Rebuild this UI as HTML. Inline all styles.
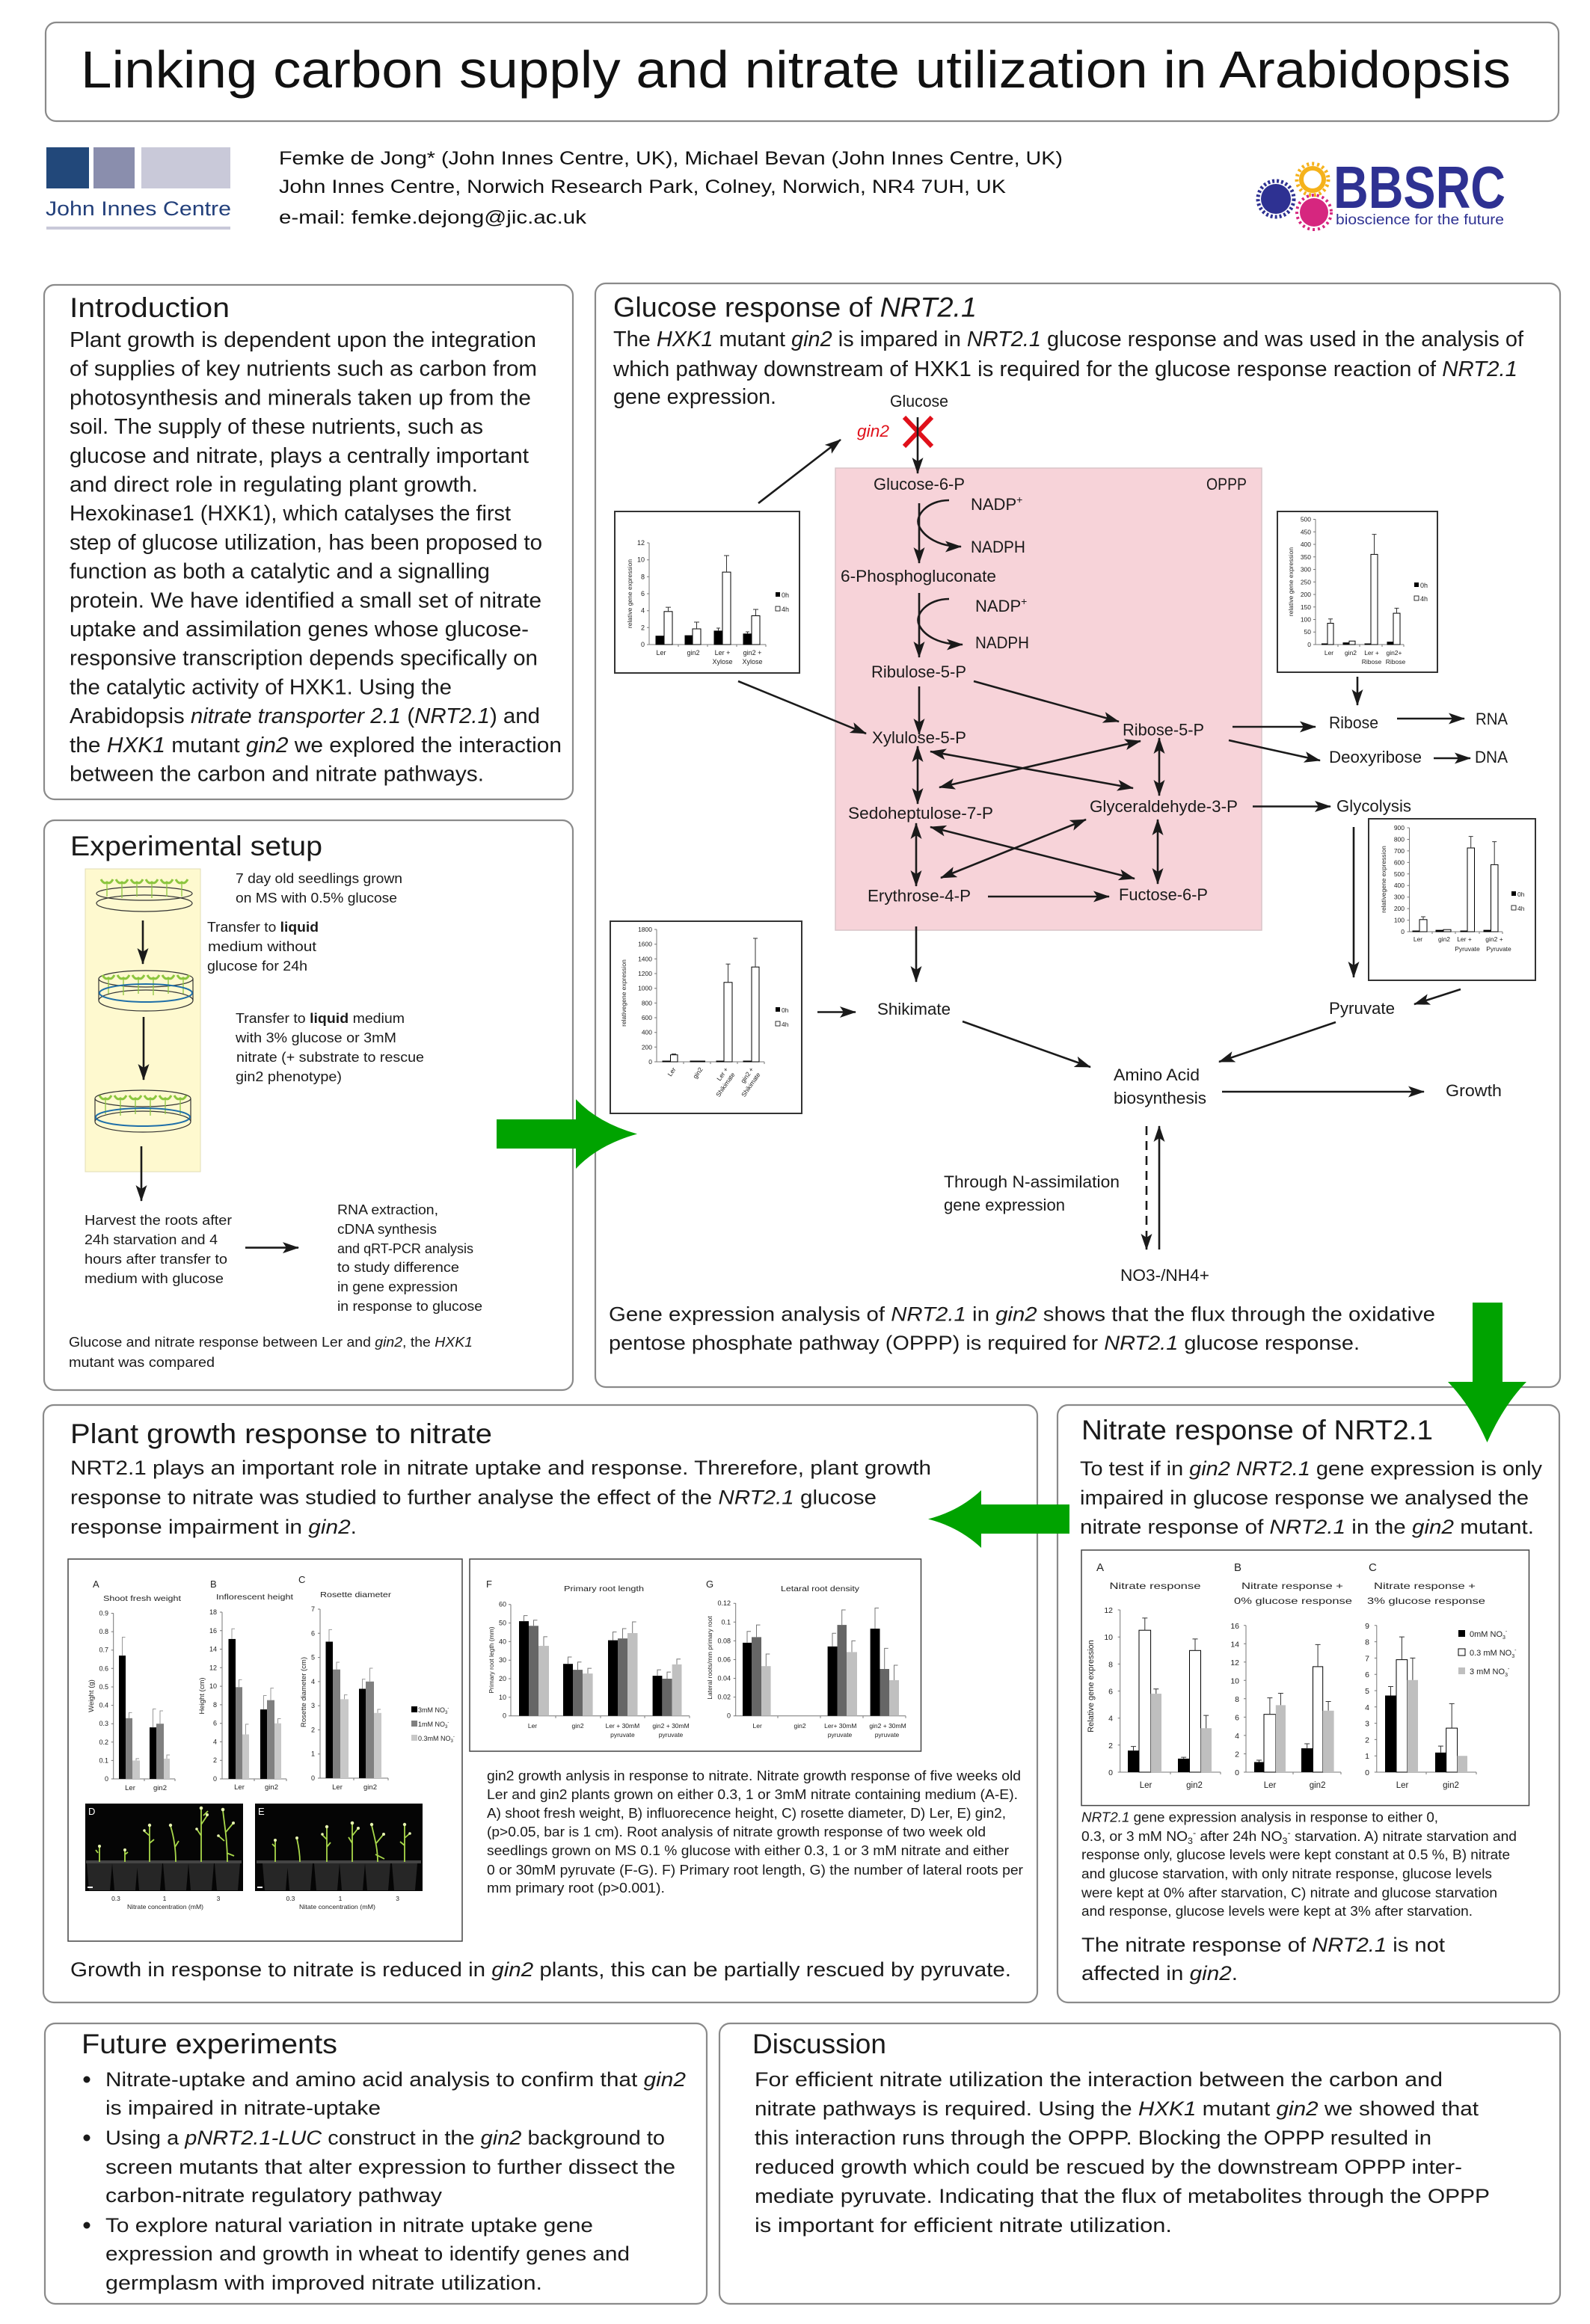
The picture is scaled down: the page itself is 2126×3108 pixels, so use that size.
<!DOCTYPE html>
<html><head><meta charset="utf-8">
<style>
html,body{margin:0;padding:0;background:#fff;}
svg{display:block;}
</style></head><body>
<svg xmlns="http://www.w3.org/2000/svg" width="2126" height="3108" viewBox="0 0 2126 3108" font-family="'Liberation Sans', Arial, sans-serif" fill="#1a1a1a">
<defs>
<marker id="ah" markerUnits="userSpaceOnUse" markerWidth="24" markerHeight="16" refX="21" refY="7.5" orient="auto-start-reverse"><path d="M0,0 L22,7.5 L0,15 L5,7.5 z" fill="#1a1a1a"/></marker>
</defs>
<style>
.pn{fill:#fff;stroke:#8a8a8a;stroke-width:2.2}
.h{font-size:37px}
.b{font-size:29px}
.m{font-size:27px}
.d{font-size:22px}
.s{font-size:18px}
.c{font-size:18.5px}
.ar{stroke:#1a1a1a;stroke-width:2.6;fill:none}
.ax{stroke:#777;stroke-width:1;fill:none}
.eb{stroke:#333;stroke-width:1;fill:none}
</style>
<rect x="0" y="0" width="2126" height="3108" fill="#fff"/>

<!-- Title -->
<rect class="pn" x="61" y="30" width="2023" height="132" rx="14"/>
<text x="108" y="117" font-size="70" textLength="1912" lengthAdjust="spacingAndGlyphs" fill="#111">Linking carbon supply and nitrate utilization in Arabidopsis</text>

<!-- JIC logo -->
<rect x="62" y="197" width="57" height="55" fill="#22487a"/>
<rect x="125" y="197" width="55" height="55" fill="#8a8ead"/>
<rect x="189" y="197" width="119" height="55" fill="#c9c9d9"/>
<text x="61" y="288" font-size="27" fill="#223f7a" textLength="248" lengthAdjust="spacingAndGlyphs">John Innes Centre</text>
<rect x="62" y="303" width="246" height="4" fill="#c9c9d9"/>

<!-- Authors -->
<g font-size="25" fill="#111">
<text x="373" y="220" textLength="1048" lengthAdjust="spacingAndGlyphs">Femke de Jong* (John Innes Centre, UK), Michael Bevan (John Innes Centre, UK)</text>
<text x="373" y="258" textLength="972" lengthAdjust="spacingAndGlyphs">John Innes Centre, Norwich Research Park, Colney, Norwich, NR4 7UH, UK</text>
<text x="373" y="299" textLength="411" lengthAdjust="spacingAndGlyphs">e-mail: femke.dejong@jic.ac.uk</text>
</g>

<!-- BBSRC logo -->
<circle cx="1706" cy="266" r="24" fill="none" stroke="#2e3192" stroke-width="5" stroke-dasharray="3 3"/>
<circle cx="1706" cy="266" r="20" fill="#2e3192"/>
<circle cx="1755" cy="240" r="21" fill="none" stroke="#f5b21b" stroke-width="5" stroke-dasharray="3 4"/>
<circle cx="1755" cy="240" r="15" fill="none" stroke="#f5b21b" stroke-width="6"/>
<circle cx="1757" cy="284" r="23" fill="none" stroke="#d6267f" stroke-width="4" stroke-dasharray="3 4"/>
<circle cx="1757" cy="284" r="19" fill="#d6267f"/>
<text x="1783" y="278" font-size="80" font-weight="bold" fill="#2e3192" textLength="230" lengthAdjust="spacingAndGlyphs">BBSRC</text>
<text x="1786" y="300" font-size="19" fill="#2e3192" textLength="225" lengthAdjust="spacingAndGlyphs">bioscience for the future</text>

<!-- Introduction -->
<rect class="pn" x="59" y="381" width="707" height="688" rx="14"/>
<text class="h" x="93" y="424" textLength="214" lengthAdjust="spacingAndGlyphs">Introduction</text>
<g class="b">
<text x="93" y="464" textLength="624" lengthAdjust="spacingAndGlyphs">Plant growth is dependent upon the integration</text>
<text x="93" y="502.7" textLength="625" lengthAdjust="spacingAndGlyphs">of supplies of key nutrients such as carbon from</text>
<text x="93" y="541.4" textLength="617" lengthAdjust="spacingAndGlyphs">photosynthesis and minerals taken up from the</text>
<text x="93" y="580.1" textLength="553" lengthAdjust="spacingAndGlyphs">soil. The supply of these nutrients, such as</text>
<text x="93" y="618.8" textLength="614" lengthAdjust="spacingAndGlyphs">glucose and nitrate, plays a centrally important</text>
<text x="93" y="657.5" textLength="546" lengthAdjust="spacingAndGlyphs">and direct role in regulating plant growth.</text>
<text x="93" y="696.2" textLength="590" lengthAdjust="spacingAndGlyphs">Hexokinase1 (HXK1), which catalyses the first</text>
<text x="93" y="734.9" textLength="632" lengthAdjust="spacingAndGlyphs">step of glucose utilization, has been proposed to</text>
<text x="93" y="773.6" textLength="562" lengthAdjust="spacingAndGlyphs">function as both a catalytic and a signalling</text>
<text x="93" y="812.3" textLength="631" lengthAdjust="spacingAndGlyphs">protein. We have identified a small set of nitrate</text>
<text x="93" y="851" textLength="614" lengthAdjust="spacingAndGlyphs">uptake and assimilation genes whose glucose-</text>
<text x="93" y="889.7" textLength="626" lengthAdjust="spacingAndGlyphs">responsive transcription depends specifically on</text>
<text x="93" y="928.4" textLength="511" lengthAdjust="spacingAndGlyphs">the catalytic activity of HXK1. Using the</text>
<text x="93" y="967.1" textLength="629" lengthAdjust="spacingAndGlyphs">Arabidopsis <tspan font-style="italic">nitrate transporter 2.1</tspan> (<tspan font-style="italic">NRT2.1</tspan>) and</text>
<text x="93" y="1005.8" textLength="658" lengthAdjust="spacingAndGlyphs">the <tspan font-style="italic">HXK1</tspan> mutant <tspan font-style="italic">gin2</tspan> we explored the interaction</text>
<text x="93" y="1044.5" textLength="554" lengthAdjust="spacingAndGlyphs">between the carbon and nitrate pathways.</text>
</g>

<!-- Experimental setup -->
<rect class="pn" x="59" y="1097" width="707" height="762" rx="14"/>
<text class="h" x="94" y="1144" textLength="337" lengthAdjust="spacingAndGlyphs">Experimental setup</text>
<rect x="114" y="1162" width="154" height="405" fill="#fef9cf" stroke="#e2ddb4" stroke-width="1"/>
<!-- dish 1 -->
<ellipse cx="193" cy="1195" rx="64" ry="9" fill="none" stroke="#333" stroke-width="1.2"/>
<ellipse cx="193" cy="1208" rx="64" ry="11" fill="none" stroke="#333" stroke-width="1.2"/>
<g stroke="#8cc63f" fill="none">
<path stroke-width="3" d="M135,1176 Q139,1183 143,1180 Q147,1183 151,1176 M155,1176 Q159,1183 163,1180 Q167,1183 171,1176 M175,1176 Q179,1183 183,1180 Q187,1183 191,1176 M195,1176 Q199,1183 203,1180 Q207,1183 211,1176 M215,1176 Q219,1183 223,1180 Q227,1183 231,1176 M235,1176 Q239,1183 243,1180 Q247,1183 251,1176"/>
<path stroke-width="1.3" d="M143,1181v18 M163,1181v20 M183,1181v18 M203,1181v20 M223,1181v18 M243,1181v18"/>
</g>
<path class="ar" d="M191,1231 V1289" marker-end="url(#ah)"/>
<!-- dish 2 -->
<ellipse cx="195" cy="1309" rx="63" ry="11" fill="none" stroke="#333" stroke-width="1.2"/>
<ellipse cx="195" cy="1338" rx="63" ry="14" fill="none" stroke="#333" stroke-width="1.2"/>
<path d="M132,1309V1338 M258,1309V1338" stroke="#333" stroke-width="1.2"/>
<g stroke="#8cc63f" fill="none">
<path stroke-width="3" d="M137,1304 Q141,1311 145,1308 Q149,1311 153,1304 M157,1304 Q161,1311 165,1308 Q169,1311 173,1304 M177,1304 Q181,1311 185,1308 Q189,1311 193,1304 M197,1304 Q201,1311 205,1308 Q209,1311 213,1304 M217,1304 Q221,1311 225,1308 Q229,1311 233,1304 M237,1304 Q241,1311 245,1308 Q249,1311 253,1304"/>
<path stroke-width="1.3" d="M145,1309v20 M165,1309v22 M185,1309v20 M205,1309v22 M225,1309v20 M245,1309v20"/>
</g>
<ellipse cx="195" cy="1328" rx="62" ry="12" fill="none" stroke="#1f6fa8" stroke-width="2"/>
<path class="ar" d="M192,1360 V1444" marker-end="url(#ah)"/>
<!-- dish 3 -->
<ellipse cx="191" cy="1469" rx="64" ry="11" fill="none" stroke="#333" stroke-width="1.2"/>
<ellipse cx="191" cy="1500" rx="64" ry="14" fill="none" stroke="#333" stroke-width="1.2"/>
<path d="M127,1469V1500 M255,1469V1500" stroke="#333" stroke-width="1.2"/>
<g stroke="#8cc63f" fill="none">
<path stroke-width="3" d="M133,1465 Q137,1472 141,1469 Q145,1472 149,1465 M153,1465 Q157,1472 161,1469 Q165,1472 169,1465 M173,1465 Q177,1472 181,1469 Q185,1472 189,1465 M193,1465 Q197,1472 201,1469 Q205,1472 209,1465 M213,1465 Q217,1472 221,1469 Q225,1472 229,1465 M233,1465 Q237,1472 241,1469 Q245,1472 249,1465"/>
<path stroke-width="1.3" d="M141,1470v20 M161,1470v22 M181,1470v20 M201,1470v22 M221,1470v20 M241,1470v20"/>
</g>
<ellipse cx="191" cy="1494" rx="63" ry="12" fill="none" stroke="#1f6fa8" stroke-width="2"/>
<path class="ar" d="M189,1533 V1606" marker-end="url(#ah)"/>
<g class="s">
<text x="315" y="1181" textLength="223" lengthAdjust="spacingAndGlyphs">7 day old seedlings grown</text>
<text x="315" y="1207" textLength="216" lengthAdjust="spacingAndGlyphs">on MS with 0.5% glucose</text>
<text x="277" y="1246" textLength="149" lengthAdjust="spacingAndGlyphs">Transfer to <tspan font-weight="bold">liquid</tspan></text>
<text x="278" y="1272" textLength="145" lengthAdjust="spacingAndGlyphs">medium without</text>
<text x="277" y="1298" textLength="134" lengthAdjust="spacingAndGlyphs">glucose for 24h</text>
<text x="315" y="1368" textLength="226" lengthAdjust="spacingAndGlyphs">Transfer to <tspan font-weight="bold">liquid</tspan> medium</text>
<text x="315" y="1394" textLength="215" lengthAdjust="spacingAndGlyphs">with 3% glucose or 3mM</text>
<text x="316" y="1420" textLength="251" lengthAdjust="spacingAndGlyphs">nitrate (+ substrate to rescue</text>
<text x="315" y="1446" textLength="142" lengthAdjust="spacingAndGlyphs">gin2 phenotype)</text>
<text x="113" y="1638" textLength="197" lengthAdjust="spacingAndGlyphs">Harvest the roots after</text>
<text x="113" y="1664" textLength="178" lengthAdjust="spacingAndGlyphs">24h starvation and 4</text>
<text x="113" y="1690" textLength="191" lengthAdjust="spacingAndGlyphs">hours after transfer to</text>
<text x="113" y="1716" textLength="186" lengthAdjust="spacingAndGlyphs">medium with glucose</text>
<text x="451" y="1624" textLength="135" lengthAdjust="spacingAndGlyphs">RNA extraction,</text>
<text x="451" y="1650" textLength="133" lengthAdjust="spacingAndGlyphs">cDNA synthesis</text>
<text x="451" y="1676" textLength="182" lengthAdjust="spacingAndGlyphs">and qRT-PCR analysis</text>
<text x="451" y="1701" textLength="163" lengthAdjust="spacingAndGlyphs">to study difference</text>
<text x="451" y="1727" textLength="161" lengthAdjust="spacingAndGlyphs">in gene expression</text>
<text x="451" y="1753" textLength="194" lengthAdjust="spacingAndGlyphs">in response to glucose</text>
<text x="92" y="1801" textLength="540" lengthAdjust="spacingAndGlyphs">Glucose and nitrate response between Ler and <tspan font-style="italic">gin2</tspan>, the <tspan font-style="italic">HXK1</tspan></text>
<text x="92" y="1828" textLength="195" lengthAdjust="spacingAndGlyphs">mutant was compared</text>
</g>
<path class="ar" d="M328,1668.6 H399" marker-end="url(#ah)"/>

<!-- Glucose response panel -->
<rect class="pn" x="796" y="379" width="1290" height="1476" rx="14"/>
<text class="h" x="820" y="423.5" textLength="486" lengthAdjust="spacingAndGlyphs">Glucose response of <tspan font-style="italic">NRT2.1</tspan></text>
<g class="b">
<text x="820" y="463" textLength="1217" lengthAdjust="spacingAndGlyphs">The <tspan font-style="italic">HXK1</tspan> mutant <tspan font-style="italic">gin2</tspan> is impared in <tspan font-style="italic">NRT2.1</tspan> glucose response and was used in the analysis of</text>
<text x="820" y="503" textLength="1209" lengthAdjust="spacingAndGlyphs">which pathway downstream of HXK1 is required for the glucose response reaction of <tspan font-style="italic">NRT2.1</tspan></text>
<text x="820" y="540" textLength="218" lengthAdjust="spacingAndGlyphs">gene expression.</text>
</g>
<!-- OPPP box -->
<rect x="1117" y="626" width="570" height="618" fill="#f7d3d9" stroke="#d9c4c8" stroke-width="1.5"/>

<g class="d">
<text x="1190" y="544" textLength="78" lengthAdjust="spacingAndGlyphs">Glucose</text>
<text x="1146" y="584" fill="#e0101a" font-style="italic" textLength="43" lengthAdjust="spacingAndGlyphs">gin2</text>
<text x="1168" y="655" textLength="122" lengthAdjust="spacingAndGlyphs">Glucose-6-P</text>
<text x="1613" y="655" textLength="54" lengthAdjust="spacingAndGlyphs">OPPP</text>
<text x="1298" y="682">NADP<tspan dy="-9" font-size="14">+</tspan></text>
<text x="1298" y="739" textLength="73" lengthAdjust="spacingAndGlyphs">NADPH</text>
<text x="1124" y="778" textLength="208" lengthAdjust="spacingAndGlyphs">6-Phosphogluconate</text>
<text x="1304" y="818">NADP<tspan dy="-9" font-size="14">+</tspan></text>
<text x="1304" y="867" textLength="72" lengthAdjust="spacingAndGlyphs">NADPH</text>
<text x="1165" y="906" textLength="127" lengthAdjust="spacingAndGlyphs">Ribulose-5-P</text>
<text x="1166" y="994" textLength="126" lengthAdjust="spacingAndGlyphs">Xylulose-5-P</text>
<text x="1501" y="983.5" textLength="109" lengthAdjust="spacingAndGlyphs">Ribose-5-P</text>
<text x="1134" y="1095" textLength="194" lengthAdjust="spacingAndGlyphs">Sedoheptulose-7-P</text>
<text x="1457" y="1086" textLength="198" lengthAdjust="spacingAndGlyphs">Glyceraldehyde-3-P</text>
<text x="1160" y="1205.6" textLength="138" lengthAdjust="spacingAndGlyphs">Erythrose-4-P</text>
<text x="1496" y="1204" textLength="119" lengthAdjust="spacingAndGlyphs">Fuctose-6-P</text>
<text x="1777" y="974" textLength="66" lengthAdjust="spacingAndGlyphs">Ribose</text>
<text x="1973" y="969" textLength="43" lengthAdjust="spacingAndGlyphs">RNA</text>
<text x="1777" y="1020" textLength="124" lengthAdjust="spacingAndGlyphs">Deoxyribose</text>
<text x="1972" y="1020" textLength="44" lengthAdjust="spacingAndGlyphs">DNA</text>
<text x="1787" y="1085.5" textLength="100" lengthAdjust="spacingAndGlyphs">Glycolysis</text>
<text x="1173" y="1357" textLength="98" lengthAdjust="spacingAndGlyphs">Shikimate</text>
<text x="1777" y="1356" textLength="88" lengthAdjust="spacingAndGlyphs">Pyruvate</text>
<text x="1489" y="1445" textLength="115" lengthAdjust="spacingAndGlyphs">Amino Acid</text>
<text x="1489" y="1476" textLength="124" lengthAdjust="spacingAndGlyphs">biosynthesis</text>
<text x="1933" y="1466" textLength="75" lengthAdjust="spacingAndGlyphs">Growth</text>
<text x="1262" y="1588" textLength="235" lengthAdjust="spacingAndGlyphs">Through N-assimilation</text>
<text x="1262" y="1619" textLength="162" lengthAdjust="spacingAndGlyphs">gene expression</text>
<text x="1498" y="1713" textLength="119" lengthAdjust="spacingAndGlyphs">NO3-/NH4+</text>
</g>
<!-- red X -->
<path d="M1209,558 L1246,597 M1246,558 L1209,597" stroke="#e0101a" stroke-width="6"/>
<!-- arrows -->
<g class="ar">
<path d="M1227,558 V633" marker-end="url(#ah)"/>
<path d="M1229,673 V753" marker-end="url(#ah)"/>
<path d="M1269,669 C1240,669 1222,690 1229,704 C1236,718 1255,731 1285,731" marker-end="url(#ah)"/>
<path d="M1229,793 V879" marker-end="url(#ah)"/>
<path d="M1269,801 C1240,801 1222,822 1229,836 C1236,850 1255,862 1287,862" marker-end="url(#ah)"/>
<path d="M1229,918 V982" marker-end="url(#ah)"/>
<path d="M1302,911 L1496,965" marker-end="url(#ah)"/>
<path d="M987,911 L1158,981" marker-end="url(#ah)"/>
<path d="M1014,673 L1124,588" marker-end="url(#ah)"/>
<path d="M1227,998 V1075" marker-start="url(#ah)" marker-end="url(#ah)"/>
<path d="M1244,1005 L1515,1054" marker-start="url(#ah)" marker-end="url(#ah)"/>
<path d="M1256,1053 L1525,991" marker-start="url(#ah)" marker-end="url(#ah)"/>
<path d="M1550,987 V1064" marker-start="url(#ah)" marker-end="url(#ah)"/>
<path d="M1648,972 H1759" marker-end="url(#ah)"/>
<path d="M1643,990 L1765,1017" marker-end="url(#ah)"/>
<path d="M1868,961 H1958" marker-end="url(#ah)"/>
<path d="M1917,1014 H1966" marker-end="url(#ah)"/>
<path d="M1675,1078.5 H1779" marker-end="url(#ah)"/>
<path d="M1815,905 V943" marker-end="url(#ah)"/>
<path d="M1225,1101 V1185" marker-start="url(#ah)" marker-end="url(#ah)"/>
<path d="M1244,1106 L1517,1175" marker-start="url(#ah)" marker-end="url(#ah)"/>
<path d="M1258,1174 L1452,1096" marker-start="url(#ah)" marker-end="url(#ah)"/>
<path d="M1548,1096 V1182" marker-start="url(#ah)" marker-end="url(#ah)"/>
<path d="M1321,1199 H1483" marker-end="url(#ah)"/>
<path d="M1225,1239 V1313" marker-end="url(#ah)"/>
<path d="M1093,1353.5 H1144" marker-end="url(#ah)"/>
<path d="M1287,1366 L1458,1427" marker-end="url(#ah)"/>
<path d="M1810,1106 V1307" marker-end="url(#ah)"/>
<path d="M1953,1323 L1891,1343" marker-end="url(#ah)"/>
<path d="M1786,1367 L1630,1420" marker-end="url(#ah)"/>
<path d="M1634,1460 H1904" marker-end="url(#ah)"/>
<path d="M1533,1506 V1671" stroke-dasharray="12 8" marker-end="url(#ah)"/>
<path d="M1550,1671 V1506" marker-end="url(#ah)"/>
</g>
<g class="m">
<text x="814" y="1766.5" textLength="1105" lengthAdjust="spacingAndGlyphs">Gene expression analysis of <tspan font-style="italic">NRT2.1</tspan> in <tspan font-style="italic">gin2</tspan> shows that the flux through the oxidative</text>
<text x="814" y="1805" textLength="1004" lengthAdjust="spacingAndGlyphs">pentose phosphate pathway (OPPP) is required for <tspan font-style="italic">NRT2.1</tspan> glucose response.</text>
</g>

<!-- Chart 1: Xylose -->
<g font-size="9" fill="#222">
<rect x="822" y="684" width="247" height="216" fill="#fff" stroke="#333" stroke-width="2"/>
<path class="ax" d="M868,726V862H1024 M865,862h3 M865,839.3h3 M865,816.7h3 M865,794h3 M865,771.3h3 M865,748.7h3 M865,726h3 M907,862v3 M946,862v3 M985,862v3 M1024,862v3"/>
<g text-anchor="end"><text x="862" y="865">0</text><text x="862" y="842.3">2</text><text x="862" y="819.7">4</text><text x="862" y="797">6</text><text x="862" y="774.3">8</text><text x="862" y="751.7">10</text><text x="862" y="729">12</text></g>
<g stroke="#000" stroke-width="1">
<rect x="877" y="850.7" width="11" height="11.3" fill="#000"/><rect x="888" y="817.8" width="11" height="44.2" fill="#fff"/>
<rect x="916" y="850.1" width="10" height="11.9" fill="#000"/><rect x="926" y="841" width="11" height="21" fill="#fff"/>
<rect x="955" y="843.9" width="11" height="18.1" fill="#000"/><rect x="966" y="765.1" width="11" height="96.9" fill="#fff"/>
<rect x="994" y="847.8" width="11" height="14.2" fill="#000"/><rect x="1005" y="823.5" width="11" height="38.5" fill="#fff"/>
</g>
<path class="eb" d="M893.5,817.8V812.1M890,812.1h7 M931.5,841V832M928,832h7 M971.5,765.1V743M968,743h7 M1010.5,823.5V815M1007,815h7 M960.5,843.9V840M958,840h5 M999.5,847.8V845M997,845h5"/>
<g text-anchor="middle"><text x="884" y="876">Ler</text><text x="927" y="876">gin2</text><text x="966" y="876">Ler +</text><text x="1006" y="876">gin2 +</text><text x="966" y="888">Xylose</text><text x="1006" y="888">Xylose</text></g>
<rect x="1037" y="792" width="6" height="6" fill="#000"/><text x="1045" y="799">0h</text>
<rect x="1037" y="811" width="6" height="6" fill="#fff" stroke="#000" stroke-width="0.8"/><text x="1045" y="818">4h</text>
<text transform="translate(845,794) rotate(-90)" text-anchor="middle" font-size="8.5">relative gene expression</text>
</g>

<!-- Chart 2: Ribose -->
<g font-size="9" fill="#222">
<rect x="1708" y="684" width="214" height="215" fill="#fff" stroke="#333" stroke-width="2"/>
<path class="ax" d="M1759,694.5V862H1877 M1756,862h3 M1756,845.25h3 M1756,828.5h3 M1756,811.75h3 M1756,795h3 M1756,778.25h3 M1756,761.5h3 M1756,744.75h3 M1756,728h3 M1756,711.25h3 M1756,694.5h3 M1789,862v3 M1818,862v3 M1848,862v3 M1877,862v3"/>
<g text-anchor="end" font-size="8.5"><text x="1753" y="865">0</text><text x="1753" y="848">50</text><text x="1753" y="831.5">100</text><text x="1753" y="814.75">150</text><text x="1753" y="798">200</text><text x="1753" y="781.25">250</text><text x="1753" y="764.5">300</text><text x="1753" y="747.75">350</text><text x="1753" y="731">400</text><text x="1753" y="714.25">450</text><text x="1753" y="697.5">500</text></g>
<g stroke="#000" stroke-width="1">
<rect x="1767.5" y="861" width="7" height="1" fill="#000"/><rect x="1775" y="833.5" width="8" height="28.5" fill="#fff"/>
<rect x="1796" y="859.7" width="8" height="2.3" fill="#000"/><rect x="1804" y="857.3" width="8" height="4.7" fill="#fff"/>
<rect x="1825" y="861" width="7" height="1" fill="#000"/><rect x="1833" y="741.4" width="9" height="120.6" fill="#fff"/>
<rect x="1855" y="858.7" width="8" height="3.3" fill="#000"/><rect x="1863" y="820.1" width="9" height="41.9" fill="#fff"/>
</g>
<path class="eb" d="M1779,833.5V827.8M1776,827.8h6 M1837.5,741.4V714.6M1834.5,714.6h6 M1867.5,820.1V813.4M1864.5,813.4h6"/>
<g text-anchor="middle" font-size="8.5"><text x="1777" y="876">Ler</text><text x="1806" y="876">gin2</text><text x="1834" y="876">Ler +</text><text x="1864" y="876">gin2+</text><text x="1834" y="888">Ribose</text><text x="1866" y="888">Ribose</text></g>
<rect x="1891" y="779" width="6" height="6" fill="#000"/><text x="1899" y="786">0h</text>
<rect x="1891" y="797" width="6" height="6" fill="#fff" stroke="#000" stroke-width="0.8"/><text x="1899" y="804">4h</text>
<text transform="translate(1729,778) rotate(-90)" text-anchor="middle" font-size="8.5">relative gene expression</text>
</g>

<!-- Chart 3: Pyruvate -->
<g font-size="8.5" fill="#222">
<rect x="1830" y="1095" width="223" height="216" fill="#fff" stroke="#333" stroke-width="2"/>
<path class="ax" d="M1884.5,1107V1246H2009 M1881.5,1246h3 M1881.5,1230.6h3 M1881.5,1215.1h3 M1881.5,1199.7h3 M1881.5,1184.2h3 M1881.5,1168.8h3 M1881.5,1153.4h3 M1881.5,1137.9h3 M1881.5,1122.5h3 M1881.5,1107h3 M1915,1246v3 M1946,1246v3 M1978,1246v3 M2009,1246v3"/>
<g text-anchor="end"><text x="1878" y="1249">0</text><text x="1878" y="1233.6">100</text><text x="1878" y="1218.1">200</text><text x="1878" y="1202.7">300</text><text x="1878" y="1187.2">400</text><text x="1878" y="1171.8">500</text><text x="1878" y="1156.4">600</text><text x="1878" y="1140.9">700</text><text x="1878" y="1125.5">800</text><text x="1878" y="1110">900</text></g>
<g stroke="#000" stroke-width="1">
<rect x="1889" y="1245" width="9" height="1" fill="#000"/><rect x="1898" y="1229.8" width="10" height="16.2" fill="#fff"/>
<rect x="1920" y="1244.1" width="10" height="1.9" fill="#000"/><rect x="1930" y="1243.2" width="10" height="2.8" fill="#fff"/>
<rect x="1953" y="1245" width="9" height="1" fill="#000"/><rect x="1962" y="1134" width="9.5" height="112" fill="#fff"/>
<rect x="1984" y="1244.1" width="9.5" height="1.9" fill="#000"/><rect x="1993.5" y="1156.4" width="9.5" height="89.6" fill="#fff"/>
</g>
<path class="eb" d="M1903,1229.8V1226M1900,1226h6 M1966.7,1134V1118.6M1963.7,1118.6h6 M1998.2,1156.4V1125.6M1995.2,1125.6h6"/>
<g text-anchor="middle"><text x="1896" y="1259">Ler</text><text x="1931" y="1259">gin2</text><text x="1958" y="1259">Ler +</text><text x="1998" y="1259">gin2 +</text><text x="1962" y="1272">Pyruvate</text><text x="2004" y="1272">Pyruvate</text></g>
<rect x="2021" y="1192" width="6" height="6" fill="#000"/><text x="2029" y="1199">0h</text>
<rect x="2021" y="1211" width="6" height="6" fill="#fff" stroke="#000" stroke-width="0.8"/><text x="2029" y="1218">4h</text>
<text transform="translate(1853,1176) rotate(-90)" text-anchor="middle" font-size="8.5">relativegene expression</text>
</g>

<!-- Chart 4: Shikimate -->
<g font-size="8.5" fill="#222">
<rect x="816" y="1232" width="256" height="257" fill="#fff" stroke="#333" stroke-width="2"/>
<path class="ax" d="M878,1243V1420H1022 M875,1420h3 M875,1400.3h3 M875,1380.7h3 M875,1361h3 M875,1341.4h3 M875,1321.7h3 M875,1302h3 M875,1282.4h3 M875,1262.7h3 M875,1243h3 M914,1420v3 M950,1420v3 M986,1420v3 M1022,1420v3"/>
<g text-anchor="end"><text x="872" y="1423">0</text><text x="872" y="1403.3">200</text><text x="872" y="1383.7">400</text><text x="872" y="1364">600</text><text x="872" y="1344.4">800</text><text x="872" y="1324.7">1000</text><text x="872" y="1305">1200</text><text x="872" y="1285.4">1400</text><text x="872" y="1265.7">1600</text><text x="872" y="1246">1800</text></g>
<g stroke="#000" stroke-width="1">
<rect x="886" y="1419" width="10" height="1" fill="#000"/><rect x="896.5" y="1410.7" width="9.5" height="9.3" fill="#fff"/>
<rect x="923" y="1419" width="10" height="1" fill="#000"/><rect x="933" y="1419" width="9.5" height="1" fill="#fff"/>
<rect x="958" y="1419" width="10" height="1" fill="#000"/><rect x="968" y="1313.8" width="11" height="106.2" fill="#fff"/>
<rect x="994" y="1419" width="11" height="1" fill="#000"/><rect x="1005" y="1293.2" width="10" height="126.8" fill="#fff"/>
</g>
<path class="eb" d="M901,1410.7V1409.5M898,1409.5h6 M973.5,1313.8V1289.3M970.5,1289.3h6 M1010,1293.2V1254.9M1007,1254.9h6"/>
<text transform="translate(904,1430) rotate(-55)" text-anchor="end">Ler</text>
<text transform="translate(940,1430) rotate(-55)" text-anchor="end">gin2</text>
<text transform="translate(974,1430) rotate(-55)" text-anchor="end">Ler +</text>
<text transform="translate(983,1437) rotate(-55)" text-anchor="end">Shikimate</text>
<text transform="translate(1008,1430) rotate(-55)" text-anchor="end">gin2 +</text>
<text transform="translate(1017,1437) rotate(-55)" text-anchor="end">Shikimate</text>
<rect x="1037" y="1347" width="6" height="6" fill="#000"/><text x="1045" y="1354">0h</text>
<rect x="1037" y="1366" width="6" height="6" fill="#fff" stroke="#000" stroke-width="0.8"/><text x="1045" y="1373">4h</text>
<text transform="translate(837,1328) rotate(-90)" text-anchor="middle">relativegene expression</text>
</g>

<!-- Plant growth panel -->
<rect class="pn" x="58" y="1879" width="1329" height="799" rx="14"/>
<text class="h" x="94" y="1930" textLength="564" lengthAdjust="spacingAndGlyphs">Plant growth response to nitrate</text>
<g class="m">
<text x="94" y="1972" textLength="1151" lengthAdjust="spacingAndGlyphs">NRT2.1 plays an important role in nitrate uptake and response. Threrefore, plant growth</text>
<text x="94" y="2011.5" textLength="1078" lengthAdjust="spacingAndGlyphs">response to nitrate was studied to further analyse the effect of the <tspan font-style="italic">NRT2.1</tspan> glucose</text>
<text x="94" y="2051" textLength="383" lengthAdjust="spacingAndGlyphs">response impairment in <tspan font-style="italic">gin2</tspan>.</text>
<text x="94" y="2643" textLength="1258" lengthAdjust="spacingAndGlyphs">Growth in response to nitrate is reduced in <tspan font-style="italic">gin2</tspan> plants, this can be partially rescued by pyruvate.</text>
</g>
<g class="c">
<text x="651" y="2381" textLength="714" lengthAdjust="spacingAndGlyphs">gin2 growth anlysis in response to nitrate. Nitrate growth response of five weeks old</text>
<text x="651" y="2406" textLength="710" lengthAdjust="spacingAndGlyphs">Ler and gin2 plants grown on either 0.3, 1 or 3mM nitrate containing medium (A-E).</text>
<text x="651" y="2431" textLength="694" lengthAdjust="spacingAndGlyphs">A) shoot fresh weight, B) influorecence height, C) rosette diameter, D) Ler, E) gin2,</text>
<text x="651" y="2456" textLength="667" lengthAdjust="spacingAndGlyphs">(p>0.05, bar is 1 cm). Root analysis of nitrate growth response of two week old</text>
<text x="651" y="2481" textLength="698" lengthAdjust="spacingAndGlyphs">seedlings grown on MS 0.1 % glucose with either 0.3, 1 or 3 mM nitrate and either</text>
<text x="651" y="2507" textLength="717" lengthAdjust="spacingAndGlyphs">0 or 30mM pyruvate (F-G). F) Primary root length, G) the number of lateral roots per</text>
<text x="651" y="2531" textLength="238" lengthAdjust="spacingAndGlyphs">mm primary root (p>0.001).</text>
</g>

<!-- Figure box A-E -->
<rect x="91" y="2085" width="527" height="511" fill="#fff" stroke="#444" stroke-width="1.5"/>
<g font-size="9.5" fill="#222">
<!-- Chart A -->
<text x="124" y="2123" font-size="13">A</text>
<text x="138" y="2141" font-size="10.5" textLength="104" lengthAdjust="spacingAndGlyphs">Shoot fresh weight</text>
<path class="ax" d="M151.7,2157.5V2379H234 M148.7,2379h3 M148.7,2354.4h3 M148.7,2329.8h3 M148.7,2305.2h3 M148.7,2280.6h3 M148.7,2256h3 M148.7,2231.3h3 M148.7,2206.7h3 M148.7,2182.1h3 M148.7,2157.5h3 M193,2379v3 M234,2379v3"/>
<g text-anchor="end" font-size="9"><text x="145" y="2382">0</text><text x="145" y="2357.4">0.1</text><text x="145" y="2332.8">0.2</text><text x="145" y="2308.2">0.3</text><text x="145" y="2283.6">0.4</text><text x="145" y="2259">0.5</text><text x="145" y="2234.3">0.6</text><text x="145" y="2209.7">0.7</text><text x="145" y="2185.1">0.8</text><text x="145" y="2160.5">0.9</text></g>
<rect x="159" y="2214.1" width="9" height="164.9" fill="#000"/><rect x="168" y="2297.8" width="9" height="81.2" fill="#808080"/><rect x="177" y="2354.4" width="10" height="24.6" fill="#c8c8c8"/>
<rect x="200" y="2310.1" width="9" height="68.9" fill="#000"/><rect x="209" y="2305.2" width="10" height="73.8" fill="#808080"/><rect x="219" y="2351.9" width="8" height="27.1" fill="#c8c8c8"/>
<path d="M163.5,2214.1V2189.5h4 M172.5,2297.8V2290.4h4 M182,2354.4V2351.9h4 M204.5,2310.1V2285.5h4 M214,2305.2V2288h4 M223,2351.9V2347h4" stroke="#999" stroke-width="1" fill="none"/>
<text x="174" y="2394" text-anchor="middle">Ler</text><text x="214" y="2394" text-anchor="middle">gin2</text>
<text transform="translate(125,2268) rotate(-90)" text-anchor="middle">Weight (g)</text>
<!-- Chart B -->
<text x="281" y="2123" font-size="13">B</text>
<text x="289" y="2139" font-size="10.5" textLength="103" lengthAdjust="spacingAndGlyphs">Inflorescent height</text>
<path class="ax" d="M297,2156V2379H383 M294,2379h3 M294,2354.2h3 M294,2329.4h3 M294,2304.7h3 M294,2279.9h3 M294,2255.1h3 M294,2230.3h3 M294,2205.5h3 M294,2180.8h3 M294,2156h3 M340,2379v3 M383,2379v3"/>
<g text-anchor="end" font-size="9"><text x="290" y="2382">0</text><text x="290" y="2357.2">2</text><text x="290" y="2332.4">4</text><text x="290" y="2307.7">6</text><text x="290" y="2282.9">8</text><text x="290" y="2258.1">10</text><text x="290" y="2233.3">12</text><text x="290" y="2208.5">14</text><text x="290" y="2183.8">16</text><text x="290" y="2159">18</text></g>
<rect x="305.5" y="2191.9" width="9.5" height="187.1" fill="#000"/><rect x="315" y="2256.3" width="9" height="122.7" fill="#808080"/><rect x="324" y="2319.5" width="9" height="59.5" fill="#c8c8c8"/>
<rect x="348" y="2286.1" width="9" height="92.9" fill="#000"/><rect x="357" y="2273.7" width="10" height="105.3" fill="#808080"/><rect x="367" y="2304.7" width="9" height="74.3" fill="#c8c8c8"/>
<path d="M310,2191.9V2178.3h4 M319.5,2256.3V2246.4h4 M328.5,2319.5V2305.9h4 M352.5,2286.1V2267.5h4 M362,2273.7V2257.6h4 M371.5,2304.7V2298.5h4" stroke="#999" stroke-width="1" fill="none"/>
<text x="320" y="2393" text-anchor="middle">Ler</text><text x="363" y="2393" text-anchor="middle">gin2</text>
<text transform="translate(273,2268) rotate(-90)" text-anchor="middle">Height (cm)</text>
<!-- Chart C -->
<text x="399" y="2117" font-size="13">C</text>
<text x="428" y="2136" font-size="10.5" textLength="95" lengthAdjust="spacingAndGlyphs">Rosette diameter</text>
<path class="ax" d="M428,2152V2378H519 M425,2378h3 M425,2345.7h3 M425,2313.4h3 M425,2281.1h3 M425,2248.9h3 M425,2216.6h3 M425,2184.3h3 M425,2152h3 M473,2378v3 M519,2378v3"/>
<g text-anchor="end" font-size="9"><text x="421" y="2381">0</text><text x="421" y="2348.7">1</text><text x="421" y="2316.4">2</text><text x="421" y="2284.1">3</text><text x="421" y="2251.9">4</text><text x="421" y="2219.6">5</text><text x="421" y="2187.3">6</text><text x="421" y="2155">7</text></g>
<rect x="435.5" y="2195.5" width="9.5" height="182.5" fill="#000"/><rect x="445" y="2232.7" width="10" height="145.3" fill="#808080"/><rect x="455" y="2272.4" width="11" height="105.6" fill="#c8c8c8"/>
<rect x="480" y="2258.5" width="9" height="119.5" fill="#000"/><rect x="489" y="2248.8" width="11" height="129.2" fill="#808080"/><rect x="500" y="2290.8" width="10" height="87.2" fill="#c8c8c8"/>
<path d="M440,2195.5V2179.4h4 M450,2232.7V2223h4 M460.5,2272.4V2266.6h4 M484.5,2258.5V2245.6h4 M494.5,2248.8V2231h4 M505,2290.8V2286h4" stroke="#999" stroke-width="1" fill="none"/>
<text x="451" y="2393" text-anchor="middle">Ler</text><text x="495" y="2393" text-anchor="middle">gin2</text>
<text transform="translate(409,2263) rotate(-90)" text-anchor="middle">Rosette diameter (cm)</text>
<!-- legend -->
<rect x="550" y="2282" width="8" height="8" fill="#000"/><text x="559" y="2290" font-size="9">3mM NO<tspan dy="2" font-size="6">3</tspan><tspan dy="-6" font-size="6">-</tspan></text>
<rect x="550" y="2301" width="8" height="8" fill="#808080"/><text x="559" y="2309" font-size="9">1mM NO<tspan dy="2" font-size="6">3</tspan><tspan dy="-6" font-size="6">-</tspan></text>
<rect x="550" y="2320" width="8" height="8" fill="#c8c8c8"/><text x="559" y="2328" font-size="9">0.3mM NO<tspan dy="2" font-size="6">3</tspan><tspan dy="-6" font-size="6">-</tspan></text>
</g>
<!-- Photos D and E -->
<rect x="114" y="2412" width="211" height="117" fill="#050505"/>
<rect x="341" y="2412" width="224" height="117" fill="#050505"/>
<g fill="#262626">
<path d="M116,2492h34l-3,36h-28z M150,2492h34l-3,36h-28z M183,2492h34l-3,36h-28z M218,2492h34l-3,36h-28z M252,2492h34l-3,36h-28z M287,2492h34l-3,36h-28z"/>
<path d="M351,2492h34l-3,36h-28z M384,2492h34l-3,36h-28z M420,2492h34l-3,36h-28z M454,2492h34l-3,36h-28z M488,2492h34l-3,36h-28z M524,2492h34l-3,36h-28z"/>
</g>
<g fill="#444">
<rect x="115" y="2488" width="208" height="4"/><rect x="343" y="2488" width="220" height="4"/>
</g>
<g stroke="#a8d84a" stroke-width="1.8" fill="none">
<path d="M133,2490V2470 M131,2478l-3,-4 M167,2490V2475 M167,2480l4,-3 M200,2490V2442 M200,2455l-7,-6 M200,2465l6,-5 M235,2490C235,2470 232,2455 228,2442 M234,2470l5,-8 M269,2490V2419 M269,2440l8,-12 M269,2455l-6,-9 M272,2428l6,-6 M304,2490C304,2460 300,2440 298,2421 M302,2450l10,-12 M300,2462l-8,-7 M303,2478l10,4"/>
<path d="M368,2490V2462 M368,2470l-4,-4 M401,2490C401,2478 399,2468 397,2459 M437,2490V2444 M437,2460l-6,-6 M437,2470l5,-6 M471,2490V2439 M471,2455l8,-10 M471,2465l-5,-8 M505,2490C505,2470 500,2455 497,2441 M503,2465l10,-12 M502,2480l12,6 M541,2490V2441 M541,2458l7,-6 M541,2468l-6,-5"/>
</g>
<g fill="#e8f5b0">
<circle cx="133" cy="2469" r="2"/><circle cx="167" cy="2474" r="2"/><circle cx="200" cy="2441" r="2.2"/><circle cx="193" cy="2448" r="1.8"/><circle cx="228" cy="2441" r="2.2"/><circle cx="269" cy="2418" r="2.3"/><circle cx="277" cy="2427" r="2"/><circle cx="263" cy="2446" r="1.8"/><circle cx="298" cy="2420" r="2.3"/><circle cx="312" cy="2438" r="2"/><circle cx="292" cy="2455" r="1.8"/>
<circle cx="368" cy="2461" r="2"/><circle cx="397" cy="2458" r="2"/><circle cx="437" cy="2443" r="2.2"/><circle cx="431" cy="2453" r="1.8"/><circle cx="471" cy="2438" r="2.3"/><circle cx="479" cy="2445" r="2"/><circle cx="497" cy="2440" r="2.2"/><circle cx="513" cy="2453" r="2"/><circle cx="541" cy="2440" r="2.2"/><circle cx="548" cy="2452" r="1.8"/>
</g>
<text x="118" y="2427" font-size="13" fill="#fff">D</text>
<text x="345" y="2427" font-size="13" fill="#fff">E</text>
<path d="M117,2524h7 M344,2524h7" stroke="#fff" stroke-width="2"/>
<g font-size="8.5" fill="#222" text-anchor="middle">
<text x="155" y="2542">0.3</text><text x="220" y="2542">1</text><text x="292" y="2542">3</text>
<text x="221" y="2553" textLength="102" lengthAdjust="spacingAndGlyphs">Nitrate concentration (mM)</text>
<text x="388.5" y="2542">0.3</text><text x="455" y="2542">1</text><text x="531.6" y="2542">3</text>
<text x="451" y="2553" textLength="102" lengthAdjust="spacingAndGlyphs">Nitate concentration (mM)</text>
</g>

<!-- Figure box F,G -->
<rect x="628" y="2085" width="603.5" height="257" fill="#fff" stroke="#444" stroke-width="1.5"/>
<g font-size="9" fill="#222">
<text x="650" y="2123" font-size="13">F</text>
<text x="754" y="2128" font-size="10" textLength="107" lengthAdjust="spacingAndGlyphs">Primary root length</text>
<path class="ax" d="M683,2145.7V2294.7H922 M680,2294.7h3 M680,2269.9h3 M680,2245h3 M680,2220.2h3 M680,2195.4h3 M680,2170.5h3 M680,2145.7h3 M743,2294.7v3 M803,2294.7v3 M862,2294.7v3 M922,2294.7v3"/>
<g text-anchor="end"><text x="677" y="2297.7">0</text><text x="677" y="2272.9">10</text><text x="677" y="2248">20</text><text x="677" y="2223.2">30</text><text x="677" y="2198.4">40</text><text x="677" y="2173.5">50</text><text x="677" y="2148.7">60</text></g>
<rect x="694" y="2168.1" width="13" height="126.6" fill="#000"/><rect x="707" y="2174.3" width="13" height="120.4" fill="#666"/><rect x="720" y="2201.1" width="14" height="93.6" fill="#c0c0c0"/>
<rect x="753" y="2225.2" width="13" height="69.5" fill="#000"/><rect x="766" y="2233.1" width="13" height="61.6" fill="#666"/><rect x="779" y="2238.1" width="13.6" height="56.6" fill="#c0c0c0"/>
<rect x="813" y="2193.6" width="13" height="101.1" fill="#000"/><rect x="826" y="2191.2" width="13" height="103.5" fill="#666"/><rect x="839" y="2184" width="13.5" height="110.7" fill="#c0c0c0"/>
<rect x="872.6" y="2241.1" width="12.8" height="53.6" fill="#000"/><rect x="885.4" y="2245" width="13.2" height="49.7" fill="#666"/><rect x="898.6" y="2225.9" width="12.9" height="68.8" fill="#c0c0c0"/>
<path d="M700.5,2168.1V2160.6h5 M713.5,2174.3V2166.8h5 M727,2201.1V2188.9h5 M759.5,2225.2V2216h5 M772.5,2233.1V2222.7h5 M786,2238.1V2231.1h5 M819.5,2193.6V2182.5h5 M832.5,2191.2V2178h5 M845.7,2184V2169h5 M879,2241.1V2233.1h5 M892,2245V2236.1h5 M905,2225.9V2218.7h5" stroke="#777" stroke-width="1" fill="none"/>
<g text-anchor="middle" font-size="8.5"><text x="712" y="2311">Ler</text><text x="772.6" y="2311">gin2</text><text x="832.4" y="2311">Ler + 30mM</text><text x="897" y="2311">gin2 + 30mM</text><text x="832.4" y="2323">pyruvate</text><text x="897" y="2323">pyruvate</text></g>
<text transform="translate(660,2220) rotate(-90)" text-anchor="middle" font-size="8.5">Primary root legth (mm)</text>
<!-- Chart G -->
<text x="944" y="2123" font-size="13">G</text>
<text x="1044" y="2128" font-size="10" textLength="105" lengthAdjust="spacingAndGlyphs">Letaral root density</text>
<path class="ax" d="M983.7,2144V2294.7H1211 M980.7,2294.7h3 M980.7,2269.6h3 M980.7,2244.5h3 M980.7,2219.5h3 M980.7,2194.4h3 M980.7,2169.3h3 M980.7,2144.2h3 M1040,2294.7v3 M1097,2294.7v3 M1154,2294.7v3 M1211,2294.7v3"/>
<g text-anchor="end"><text x="977" y="2297.7">0</text><text x="977" y="2272.6">0.02</text><text x="977" y="2247.5">0.04</text><text x="977" y="2222.5">0.06</text><text x="977" y="2197.4">0.08</text><text x="977" y="2172.3">0.1</text><text x="977" y="2147.2">0.12</text></g>
<rect x="993" y="2196.9" width="12" height="97.8" fill="#000"/><rect x="1005" y="2189.4" width="13" height="105.3" fill="#666"/><rect x="1018" y="2228.2" width="12.6" height="66.5" fill="#c0c0c0"/>
<rect x="1106.6" y="2201.9" width="12.9" height="92.8" fill="#000"/><rect x="1119.5" y="2173.1" width="12.5" height="121.6" fill="#666"/><rect x="1132" y="2209.4" width="14" height="85.3" fill="#c0c0c0"/>
<rect x="1163.6" y="2178.1" width="12.9" height="116.6" fill="#000"/><rect x="1176.5" y="2232" width="12.5" height="62.7" fill="#666"/><rect x="1189" y="2247" width="13" height="47.7" fill="#c0c0c0"/>
<path d="M999,2196.9V2181.8h5 M1011.5,2189.4V2173.1h5 M1024.3,2228.2V2212h5 M1113,2201.9V2184.3h5 M1125.7,2173.1V2153h5 M1139,2209.4V2194.4h5 M1170,2178.1V2150.5h5 M1182.7,2232V2204.4h5 M1195.5,2247V2227h5" stroke="#777" stroke-width="1" fill="none"/>
<g text-anchor="middle" font-size="8.5"><text x="1012.7" y="2311">Ler</text><text x="1069.6" y="2311">gin2</text><text x="1123.8" y="2311">Ler+ 30mM</text><text x="1187" y="2311">gin2 + 30mM</text><text x="1123" y="2323">pyruvate</text><text x="1186" y="2323">pyruvate</text></g>
<text transform="translate(952,2217) rotate(-90)" text-anchor="middle" font-size="8.5">Lateral roots/mm primary root</text>
</g>

<!-- Nitrate response panel -->
<rect class="pn" x="1414" y="1879" width="671" height="799" rx="14"/>
<text class="h" x="1446" y="1925" textLength="470" lengthAdjust="spacingAndGlyphs">Nitrate response of NRT2.1</text>
<g class="m">
<text x="1444" y="1973" textLength="618" lengthAdjust="spacingAndGlyphs">To test if in <tspan font-style="italic">gin2 NRT2.1</tspan> gene expression is only</text>
<text x="1444" y="2012" textLength="600" lengthAdjust="spacingAndGlyphs">impaired in glucose response we analysed the</text>
<text x="1444" y="2051" textLength="607" lengthAdjust="spacingAndGlyphs">nitrate response of <tspan font-style="italic">NRT2.1</tspan> in the <tspan font-style="italic">gin2</tspan> mutant.</text>
<text x="1446" y="2610" textLength="486" lengthAdjust="spacingAndGlyphs">The nitrate response of <tspan font-style="italic">NRT2.1</tspan> is not</text>
<text x="1446" y="2648" textLength="209" lengthAdjust="spacingAndGlyphs">affected in <tspan font-style="italic">gin2</tspan>.</text>
</g>
<rect x="1446" y="2073" width="598.5" height="341.6" fill="#fff" stroke="#444" stroke-width="1.5"/>
<g font-size="10.5" fill="#222">
<!-- A -->
<text x="1466" y="2101" font-size="15">A</text>
<text x="1544.5" y="2125" font-size="12" text-anchor="middle" textLength="122" lengthAdjust="spacingAndGlyphs">Nitrate response</text>
<path class="ax" d="M1497.7,2153V2370H1632 M1494.7,2370h3 M1494.7,2333.8h3 M1494.7,2297.7h3 M1494.7,2261.5h3 M1494.7,2225.4h3 M1494.7,2189.2h3 M1494.7,2153h3 M1565,2370v3 M1632,2370v3"/>
<g text-anchor="end"><text x="1488" y="2374">0</text><text x="1488" y="2337.8">2</text><text x="1488" y="2301.7">4</text><text x="1488" y="2265.5">6</text><text x="1488" y="2229.4">8</text><text x="1488" y="2193.2">10</text><text x="1488" y="2157">12</text></g>
<rect x="1508" y="2341.1" width="15" height="28.9" fill="#000"/><rect x="1523" y="2180.2" width="15.6" height="189.8" fill="#fff" stroke="#000" stroke-width="1"/><rect x="1538.6" y="2265.1" width="14.4" height="104.9" fill="#bfbfbf"/>
<rect x="1575" y="2351.9" width="15.5" height="18.1" fill="#000"/><rect x="1590.5" y="2207.3" width="15" height="162.7" fill="#fff" stroke="#000" stroke-width="1"/><rect x="1605.5" y="2311.2" width="14.5" height="58.8" fill="#bfbfbf"/>
<path class="eb" d="M1515.5,2341.1V2335.6M1512,2335.6h7 M1530.8,2180.2V2163.9M1527.3,2163.9h7 M1545.8,2265.1V2258.8M1542.3,2258.8h7 M1582.7,2351.9V2350.1M1579.2,2350.1h7 M1598,2207.3V2191.9M1594.5,2191.9h7 M1612.7,2311.2V2294.1M1609.2,2294.1h7"/>
<text x="1532" y="2391" text-anchor="middle" font-size="11.5">Ler</text><text x="1597" y="2391" text-anchor="middle" font-size="11.5">gin2</text>
<text transform="translate(1462,2255) rotate(-90)" text-anchor="middle" font-size="11">Relative gene expression</text>
<!-- B -->
<text x="1650" y="2101" font-size="15">B</text>
<text x="1728" y="2125" font-size="12" text-anchor="middle" textLength="136" lengthAdjust="spacingAndGlyphs">Nitrate response +</text>
<text x="1729" y="2145" font-size="12" text-anchor="middle" textLength="158" lengthAdjust="spacingAndGlyphs">0% glucose response</text>
<path class="ax" d="M1666,2173.8V2370H1793 M1663,2370h3 M1663,2345.5h3 M1663,2320.9h3 M1663,2296.4h3 M1663,2271.8h3 M1663,2247.3h3 M1663,2222.8h3 M1663,2198.3h3 M1663,2173.8h3 M1729,2370v3 M1793,2370v3"/>
<g text-anchor="end"><text x="1657" y="2374">0</text><text x="1657" y="2349.5">2</text><text x="1657" y="2324.9">4</text><text x="1657" y="2300.4">6</text><text x="1657" y="2275.8">8</text><text x="1657" y="2251.3">10</text><text x="1657" y="2226.8">12</text><text x="1657" y="2202.3">14</text><text x="1657" y="2177.8">16</text></g>
<rect x="1677" y="2356.5" width="13" height="13.5" fill="#000"/><rect x="1690" y="2292.7" width="15.8" height="77.3" fill="#fff" stroke="#000" stroke-width="1"/><rect x="1705.8" y="2280.4" width="13.2" height="89.6" fill="#bfbfbf"/>
<rect x="1740" y="2338.1" width="15.5" height="31.9" fill="#000"/><rect x="1755.5" y="2228.9" width="13.2" height="141.1" fill="#fff" stroke="#000" stroke-width="1"/><rect x="1768.7" y="2287.8" width="14.9" height="82.2" fill="#bfbfbf"/>
<path class="eb" d="M1683.5,2356.5V2354M1680,2354h7 M1697.9,2292.7V2270.6M1694.4,2270.6h7 M1712.4,2280.4V2264.5M1708.9,2264.5h7 M1747.7,2338.1V2332M1744.2,2332h7 M1762.1,2228.9V2199.4M1758.6,2199.4h7 M1776.1,2287.8V2275.5M1772.6,2275.5h7"/>
<text x="1698" y="2391" text-anchor="middle" font-size="11.5">Ler</text><text x="1761.6" y="2391" text-anchor="middle" font-size="11.5">gin2</text>
<!-- C -->
<text x="1830" y="2101" font-size="15">C</text>
<text x="1905" y="2125" font-size="12" text-anchor="middle" textLength="136" lengthAdjust="spacingAndGlyphs">Nitrate response +</text>
<text x="1907" y="2145" font-size="12" text-anchor="middle" textLength="158" lengthAdjust="spacingAndGlyphs">3% glucose response</text>
<path class="ax" d="M1840.8,2173.8V2370H1974 M1837.8,2370h3 M1837.8,2348.2h3 M1837.8,2326.4h3 M1837.8,2304.6h3 M1837.8,2282.8h3 M1837.8,2261h3 M1837.8,2239.2h3 M1837.8,2217.4h3 M1837.8,2195.6h3 M1837.8,2173.8h3 M1907,2370v3 M1974,2370v3"/>
<g text-anchor="end"><text x="1831" y="2374">0</text><text x="1831" y="2352.2">1</text><text x="1831" y="2330.4">2</text><text x="1831" y="2308.6">3</text><text x="1831" y="2286.8">4</text><text x="1831" y="2265">5</text><text x="1831" y="2243.2">6</text><text x="1831" y="2221.4">7</text><text x="1831" y="2199.6">8</text><text x="1831" y="2177.8">9</text></g>
<rect x="1852" y="2267.5" width="15" height="102.5" fill="#000"/><rect x="1867" y="2219.6" width="14.7" height="150.4" fill="#fff" stroke="#000" stroke-width="1"/><rect x="1881.7" y="2246.8" width="14.3" height="123.2" fill="#bfbfbf"/>
<rect x="1919" y="2343.8" width="14.7" height="26.2" fill="#000"/><rect x="1933.7" y="2311.1" width="14.9" height="58.9" fill="#fff" stroke="#000" stroke-width="1"/><rect x="1948.6" y="2348.2" width="13.4" height="21.8" fill="#bfbfbf"/>
<path class="eb" d="M1859.5,2267.5V2255.5M1856,2255.5h7 M1874.4,2219.6V2189.1M1870.9,2189.1h7 M1888.9,2246.8V2217.4M1885.4,2217.4h7 M1926.4,2343.8V2335.1M1922.9,2335.1h7 M1941.2,2311.1V2278.4M1937.7,2278.4h7"/>
<text x="1875" y="2391" text-anchor="middle" font-size="11.5">Ler</text><text x="1940" y="2391" text-anchor="middle" font-size="11.5">gin2</text>
<rect x="1950" y="2180" width="9" height="9" fill="#000"/><text x="1965" y="2189" font-size="11">0mM NO<tspan dy="3" font-size="7">3</tspan><tspan dy="-8" font-size="7">-</tspan></text>
<rect x="1950" y="2205" width="9" height="9" fill="#fff" stroke="#000" stroke-width="1"/><text x="1965" y="2214" font-size="11">0.3 mM NO<tspan dy="3" font-size="7">3</tspan><tspan dy="-8" font-size="7">-</tspan></text>
<rect x="1950" y="2230" width="9" height="9" fill="#bfbfbf"/><text x="1965" y="2239" font-size="11">3 mM NO<tspan dy="3" font-size="7">3</tspan><tspan dy="-8" font-size="7">-</tspan></text>
</g>
<g class="c">
<text x="1446" y="2436.5" textLength="477" lengthAdjust="spacingAndGlyphs"><tspan font-style="italic">NRT2.1</tspan> gene expression analysis in response to either 0,</text>
<text x="1446" y="2462" textLength="582" lengthAdjust="spacingAndGlyphs">0.3, or 3 mM NO<tspan dy="4" font-size="12">3</tspan><tspan dy="-11" font-size="12">-</tspan><tspan dy="7"> after 24h NO</tspan><tspan dy="4" font-size="12">3</tspan><tspan dy="-11" font-size="12">-</tspan><tspan dy="7"> starvation. A) nitrate starvation and</tspan></text>
<text x="1446" y="2486.5" textLength="573" lengthAdjust="spacingAndGlyphs">response only, glucose levels were kept constant at 0.5 %, B) nitrate</text>
<text x="1446" y="2512" textLength="549" lengthAdjust="spacingAndGlyphs">and glucose starvation, with only nitrate response, glucose levels</text>
<text x="1446" y="2537.5" textLength="556" lengthAdjust="spacingAndGlyphs">were kept at 0% after starvation, C) nitrate and glucose starvation</text>
<text x="1446" y="2562" textLength="523" lengthAdjust="spacingAndGlyphs">and response, glucose levels were kept at 3% after starvation.</text>
</g>

<!-- Future experiments -->
<rect class="pn" x="60" y="2706" width="885" height="375" rx="14"/>
<text class="h" x="109" y="2746" textLength="342" lengthAdjust="spacingAndGlyphs">Future experiments</text>
<circle cx="116" cy="2781" r="4.5"/><circle cx="116" cy="2859" r="4.5"/><circle cx="116" cy="2976" r="4.5"/>
<g class="m">
<text x="141" y="2790" textLength="776" lengthAdjust="spacingAndGlyphs">Nitrate-uptake and amino acid analysis to confirm that <tspan font-style="italic">gin2</tspan></text>
<text x="141" y="2828" textLength="368" lengthAdjust="spacingAndGlyphs">is impaired in nitrate-uptake</text>
<text x="141" y="2868" textLength="748" lengthAdjust="spacingAndGlyphs">Using a <tspan font-style="italic">pNRT2.1-LUC</tspan> construct in the <tspan font-style="italic">gin2</tspan> background to</text>
<text x="141" y="2907" textLength="762" lengthAdjust="spacingAndGlyphs">screen mutants that alter expression to further dissect the</text>
<text x="141" y="2945" textLength="450" lengthAdjust="spacingAndGlyphs">carbon-nitrate regulatory pathway</text>
<text x="141" y="2985" textLength="652" lengthAdjust="spacingAndGlyphs">To explore natural variation in nitrate uptake gene</text>
<text x="141" y="3023" textLength="701" lengthAdjust="spacingAndGlyphs">expression and growth in wheat to identify genes and</text>
<text x="141" y="3062" textLength="584" lengthAdjust="spacingAndGlyphs">germplasm with improved nitrate utilization.</text>
</g>

<!-- Discussion -->
<rect class="pn" x="962" y="2706" width="1124" height="375" rx="14"/>
<text class="h" x="1006" y="2746" textLength="179" lengthAdjust="spacingAndGlyphs">Discussion</text>
<g class="m">
<text x="1009" y="2790" textLength="920" lengthAdjust="spacingAndGlyphs">For efficient nitrate utilization the interaction between the carbon and</text>
<text x="1009" y="2829" textLength="968" lengthAdjust="spacingAndGlyphs">nitrate pathways is required. Using the <tspan font-style="italic">HXK1</tspan> mutant <tspan font-style="italic">gin2</tspan> we showed that</text>
<text x="1009" y="2868" textLength="905" lengthAdjust="spacingAndGlyphs">this interaction runs through the OPPP. Blocking the OPPP resulted in</text>
<text x="1009" y="2907" textLength="946" lengthAdjust="spacingAndGlyphs">reduced growth which could be rescued by the downstream OPPP inter-</text>
<text x="1009" y="2946" textLength="983" lengthAdjust="spacingAndGlyphs">mediate pyruvate. Indicating that the flux of metabolites through the OPPP</text>
<text x="1009" y="2985" textLength="558" lengthAdjust="spacingAndGlyphs">is important for efficient nitrate utilization.</text>
</g>

<!-- Green arrows (on top) -->
<g fill="#00a300">
<rect x="664" y="1497" width="118" height="39"/>
<path d="M770,1470 Q800,1502 852,1516.5 Q800,1531 770,1563 Z"/>
<rect x="1300" y="2012" width="130" height="39"/>
<path d="M1312,1993 Q1282,2021 1241,2031.5 Q1282,2042 1312,2070 Z"/>
<rect x="1969" y="1742" width="40" height="116"/>
<path d="M1936,1848 Q1967,1880 1988.5,1929 Q2010,1880 2041,1848 Z"/>
</g>
</svg>
</body></html>
